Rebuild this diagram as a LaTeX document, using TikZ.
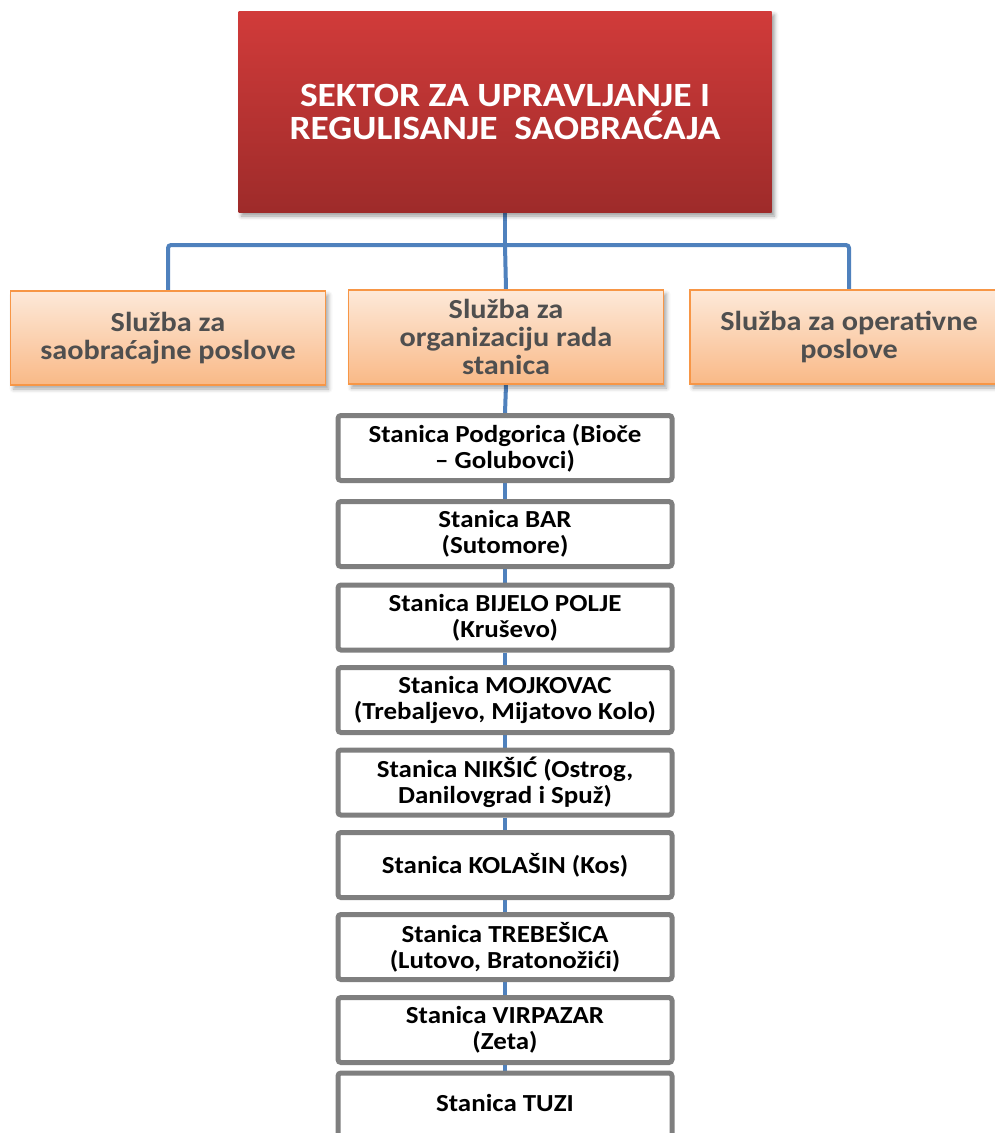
\documentclass[tikz,border=0pt]{standalone}
\usepackage{fontspec}
\setmainfont{Carlito}[FakeStretch=1.1]
\usetikzlibrary{shadows.blur,backgrounds}
\definecolor{redtop}{HTML}{D13B3A}
\definecolor{redbot}{HTML}{9E2B2A}
\definecolor{orgtop}{HTML}{FDE9D9}
\definecolor{orgbot}{HTML}{F9B987}
\definecolor{orgline}{HTML}{F79646}
\definecolor{connc}{HTML}{4F81BD}
\definecolor{graybd}{HTML}{7F7F7F}
\definecolor{txtgray}{HTML}{4F4F4F}
\tikzset{
  headbox/.style={rectangle, minimum width=533pt, minimum height=201pt, top color=redtop, bottom color=redbot, draw=none, text=white, align=center, inner sep=0pt, font=\fontsize{34}{33}\selectfont\bfseries, blur shadow={shadow xshift=3pt, shadow yshift=-4pt, shadow blur radius=4pt, shadow opacity=40}},
  svcbox/.style={rectangle, minimum width=315pt, minimum height=94pt, top color=orgtop, bottom color=orgbot, draw=orgline, line width=1.5pt, text=txtgray, align=center, inner sep=0pt, font=\fontsize{27.5}{28}\selectfont\bfseries, blur shadow={shadow xshift=3pt, shadow yshift=-4pt, shadow blur radius=4pt, shadow opacity=35}},
  stabox/.style={rectangle, rounded corners=3pt, minimum width=334pt, minimum height=65pt, fill=white, draw=graybd, line width=5pt, text=black, align=center, inner sep=0pt, font=\fontsize{24.5}{26}\selectfont\bfseries},
  conn/.style={draw=connc, line width=4pt}
}
\begin{document}
\begin{tikzpicture}[x=1pt,y=-1pt]
\useasboundingbox (0,0) rectangle (995,1133);
\node[headbox] (top) at (505,111.5) {SEKTOR ZA UPRAVLJANJE I\\REGULISANJE\ \ SAOBRA\'CAJA};
\node[svcbox] (left) at (168,338) {Služba za\\saobraćajne poslove};
\node[svcbox] (mid) at (506,337) {Služba za\\organizaciju rada\\stanica};
\node[svcbox, minimum width=318pt] (right) at (849,337) {Služba za operativne\\poslove};
\node[stabox] (s1) at (505,448) {Stanica Podgorica (Bioče\\– Golubovci)};
\node[stabox] (s2) at (505,534) {Stanica BAR\\(Sutomore)};
\node[stabox] (s3) at (505,617.5) {Stanica BIJELO POLJE\\(Kruševo)};
\node[stabox] (s4) at (505,700) {Stanica MOJKOVAC\\(Trebaljevo, Mijatovo Kolo)};
\node[stabox] (s5) at (505,782.5) {Stanica NIKŠIĆ (Ostrog,\\Danilovgrad i Spuž)};
\node[stabox] (s6) at (505,865) {Stanica KOLAŠIN (Kos)};
\node[stabox] (s7) at (505,947) {Stanica TREBEŠICA\\(Lutovo, Bratonožići)};
\node[stabox] (s8) at (505,1030) {Stanica VIRPAZAR\\(Zeta)};
\node[stabox, minimum height=80pt, text depth=0pt] (s9) at (505,1113) {\raisebox{20pt}{Stanica TUZI}};
\coordinate (j) at (505,245);
\begin{scope}[on background layer]
\draw[conn] (top.south) -- (j);
\draw[conn, rounded corners=3pt] (left.north) |- (j) -| (right.north);
\draw[conn] (j) -- (mid.north);
\draw[conn] (mid.south) -- (s1.north);
\draw[conn] (s1.south) -- (s2.north);
\draw[conn] (s2.south) -- (s3.north);
\draw[conn] (s3.south) -- (s4.north);
\draw[conn] (s4.south) -- (s5.north);
\draw[conn] (s5.south) -- (s6.north);
\draw[conn] (s6.south) -- (s7.north);
\draw[conn] (s7.south) -- (s8.north);
\draw[conn] (s8.south) -- (s9.north);
\end{scope}
\end{tikzpicture}
\end{document}
